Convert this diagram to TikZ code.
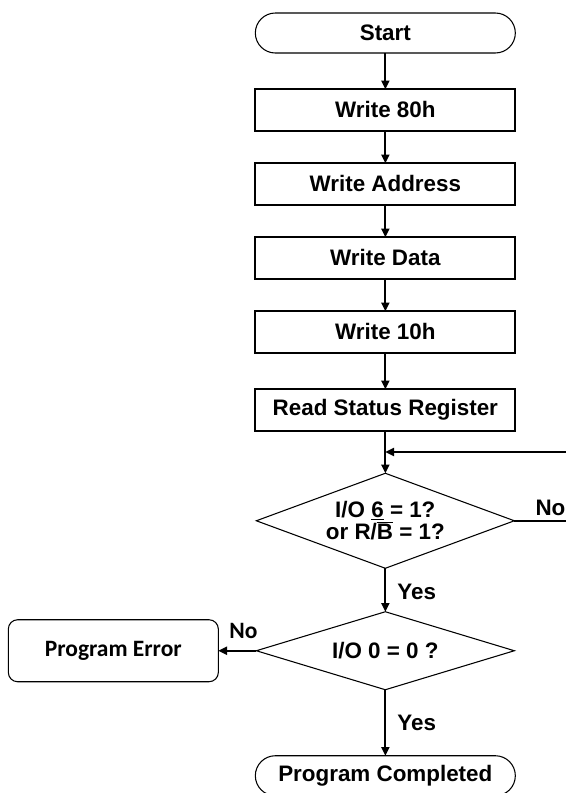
\documentclass[tikz,border=0pt]{standalone}
\usepackage{fontspec}
\setmainfont{Liberation Sans}
\newfontfamily\calfont{Carlito}
\newcommand{\boxfont}{\fontsize{16.8}{16.5}\selectfont\bfseries}
\usetikzlibrary{positioning, arrows.meta, shapes.geometric}

\begin{document}
\begin{tikzpicture}[
  procbox/.style={draw, line width=1.6pt, minimum width=195pt,
    minimum height=31pt, inner sep=2pt, outer sep=0pt, font=\boxfont},
  term/.style={draw, line width=0.8pt, rounded corners=15pt, outer sep=0pt,
    minimum width=195pt, minimum height=30pt, font=\boxfont},
  decide/.style={draw, diamond, line width=0.8pt, aspect=2.7, inner sep=0pt,
    outer sep=0pt, minimum width=193.5pt, align=center, font=\boxfont},
  errbox/.style={draw, line width=0.8pt, rounded corners=7pt, outer sep=0pt,
    minimum width=157.5pt, minimum height=46.5pt,
    font=\calfont\fontsize{17.6}{20}\selectfont\bfseries},
  arr/.style={line width=1.4pt, -{Triangle[length=6.5pt,width=6pt]}},
  lbl/.style={font=\boxfont},
  node distance=24.5pt,
]
  \useasboundingbox (0,0) rectangle (424.5pt,-594.75pt);

  \node[term] (start) at (289pt,-24.75pt) {Start};
  \node[procbox, below=27.2pt of start] (w80) {Write 80h};
  \node[procbox, below=of w80] (waddr) {Write Address};
  \node[procbox, below=of waddr] (wdata) {Write Data};
  \node[procbox, below=of wdata] (w10) {Write 10h};
  \node[procbox, below=27.5pt of w10] (rsr) {Read Status Register};
  \node[decide, minimum height=71.25pt, below=32pt of rsr] (chk1)
    {I/O \underline{6} = 1?\\ or R/$\overline{\mbox{B}}$ = 1?};
  \node[decide, minimum height=58.5pt, below=32.6pt of chk1] (chk0) {I/O 0 = 0 ?};
  \node[errbox, left=28.5pt of chk0] (err) {Program Error};
  \node[term, below=49.5pt of chk0] (done) {Program Completed};

  % loop ends at the right border
  \coordinate (loopin) at (424.5pt,-339pt);
  \coordinate (loopout) at (chk1.east -| loopin);

  \draw[arr] (start) -- (w80);
  \draw[arr] (w80) -- (waddr);
  \draw[arr] (waddr) -- (wdata);
  \draw[arr] (wdata) -- (w10);
  \draw[arr] (w10) -- (rsr);
  \draw[arr] (rsr) -- (chk1);
  \draw[arr] (loopin) -- (loopin -| rsr.south);
  \draw[line width=1.4pt] (chk1.east) -- node[lbl, above, pos=.7] {No} (loopout);
  \draw[arr] (chk1) -- node[lbl, right=5pt, pos=.55] {Yes} (chk0);
  \draw[arr] (chk0) -- node[right=5pt, lbl] {Yes} (done);
  \draw[arr] (chk0) -- node[above=5pt, pos=.34, font=\calfont\fontsize{17.6}{20}\selectfont\bfseries] {No} (err);
\end{tikzpicture}
\end{document}
